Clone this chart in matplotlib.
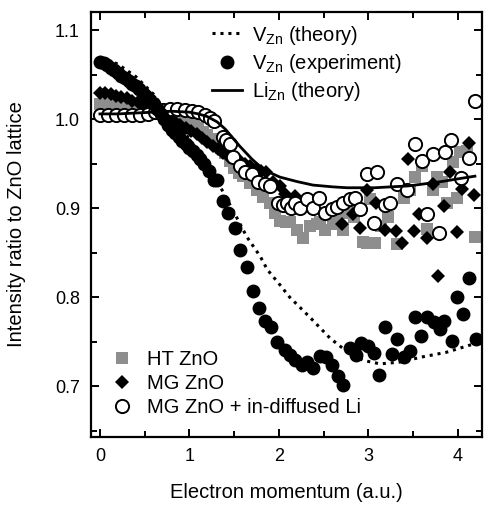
import matplotlib
matplotlib.use("Agg")
import matplotlib.pyplot as plt
from matplotlib.ticker import MultipleLocator
from matplotlib.lines import Line2D

plt.rcParams['font.family'] = ['Liberation Sans', 'DejaVu Sans']
plt.rcParams['mathtext.fontset'] = 'custom'
plt.rcParams['mathtext.rm'] = 'Liberation Sans'

# V_Zn theory (dotted)
vzn_th_x = [0.0, 0.2, 0.4, 0.6, 0.8, 1.0, 1.2, 1.34, 1.5, 1.64, 1.79, 1.87, 2.01, 2.12,
            2.35, 2.57, 2.72, 2.94, 3.13, 3.35, 3.61, 3.87, 4.13, 4.2]
vzn_th_y = [1.070, 1.062, 1.048, 1.028, 1.000, 0.978, 0.950, 0.925, 0.895, 0.868, 0.846, 0.831,
            0.814, 0.800, 0.777, 0.754, 0.742, 0.729, 0.725, 0.727, 0.733, 0.738, 0.746, 0.748]

# Li_Zn theory (solid)
li_th_x = [0.0, 0.2, 0.4, 0.6, 0.8, 1.0, 1.1, 1.2, 1.31, 1.4, 1.56, 1.7, 1.79, 1.9, 2.01, 2.2,
           2.38, 2.6, 2.76, 2.91, 3.07, 3.25, 3.44, 3.6, 3.82, 4.0, 4.19]
li_th_y = [1.006, 1.006, 1.007, 1.008, 1.009, 1.008, 1.006, 1.003, 0.997, 0.989, 0.970, 0.955,
           0.947, 0.940, 0.935, 0.930, 0.926, 0.924, 0.923, 0.923, 0.923, 0.924, 0.925, 0.927,
           0.930, 0.933, 0.936]

# V_Zn experiment (black circles)
vzn_ex_x = [0.00, 0.04, 0.08, 0.12, 0.16, 0.20, 0.24, 0.28, 0.32, 0.36, 0.40, 0.44, 0.48, 0.52,
            0.56, 0.60, 0.64, 0.68, 0.72, 0.76, 0.80, 0.84, 0.88, 0.92, 0.96, 1.00, 1.04, 1.08,
            1.12, 1.16, 1.22, 1.27, 1.31, 1.37, 1.43, 1.51, 1.56, 1.64, 1.71, 1.78, 1.84, 1.91,
            1.98, 2.07, 2.12, 2.18, 2.26, 2.31, 2.38, 2.46, 2.53, 2.59, 2.66, 2.72, 2.79, 2.86,
            2.92, 2.99, 3.06, 3.12, 3.19, 3.26, 3.32, 3.40, 3.46, 3.52, 3.59, 3.66, 3.73, 3.80,
            3.85, 3.93, 3.99, 4.06, 4.12, 4.20]
vzn_ex_y = [1.064, 1.063, 1.061, 1.058, 1.055, 1.052, 1.049, 1.046, 1.043, 1.040, 1.037, 1.034,
            1.030, 1.026, 1.022, 1.017, 1.012, 1.006, 1.000, 0.994, 0.988, 0.984, 0.980, 0.976,
            0.972, 0.968, 0.964, 0.960, 0.955, 0.950, 0.942, 0.932, 0.932, 0.908, 0.895, 0.878,
            0.853, 0.834, 0.807, 0.788, 0.773, 0.767, 0.750, 0.741, 0.735, 0.729, 0.724, 0.727,
            0.720, 0.734, 0.733, 0.724, 0.711, 0.701, 0.743, 0.735, 0.749, 0.745, 0.737, 0.712,
            0.766, 0.736, 0.753, 0.733, 0.740, 0.778, 0.756, 0.778, 0.772, 0.764, 0.773, 0.751,
            0.800, 0.781, 0.821, 0.753]

# HT ZnO (grey squares)
ht_x = [0.00, 0.05, 0.10, 0.15, 0.20, 0.25, 0.30, 0.35, 0.40, 0.45, 0.50, 0.55, 0.60, 0.65,
        0.70, 0.75, 0.80, 0.85, 0.90, 0.95, 1.00, 1.05, 1.10, 1.15, 1.20, 1.25, 1.30, 1.35,
        1.40, 1.45, 1.50, 1.55, 1.60, 1.68, 1.75, 1.82, 1.90, 1.96, 2.01, 2.08, 2.12, 2.20,
        2.27, 2.35, 2.42, 2.46, 2.52, 2.60, 2.66, 2.72, 2.76, 2.84, 2.94, 2.98, 3.02, 3.07,
        3.14, 3.22, 3.32, 3.40, 3.47, 3.52, 3.60, 3.66, 3.72, 3.77, 3.82, 3.88, 3.94, 3.99,
        4.02, 4.10, 4.19]
ht_y = [1.017, 1.017, 1.016, 1.016, 1.015, 1.014, 1.014, 1.013, 1.012, 1.011, 1.010, 1.009,
        1.008, 1.007, 1.006, 1.004, 1.003, 1.001, 0.999, 0.998, 0.996, 0.993, 0.990, 0.986,
        0.982, 0.978, 0.974, 0.968, 0.962, 0.953, 0.945, 0.940, 0.936, 0.928, 0.921, 0.913,
        0.906, 0.895, 0.886, 0.885, 0.884, 0.875, 0.867, 0.880, 0.882, 0.884, 0.876, 0.882,
        0.890, 0.876, 0.895, 0.890, 0.862, 0.861, 0.910, 0.861, 0.880, 0.890, 0.860, 0.911,
        0.920, 0.935, 0.947, 0.877, 0.921, 0.935, 0.929, 0.906, 0.952, 0.912, 0.963, 0.964,
        0.868]

# MG ZnO (diamonds)
mg_x = [0.00, 0.06, 0.12, 0.18, 0.24, 0.30, 0.36, 0.42, 0.48, 0.54, 0.60, 0.66, 0.72, 0.78,
        0.84, 0.90, 0.96, 1.02, 1.08, 1.14, 1.20, 1.26, 1.32, 1.38, 1.44, 1.50, 1.56, 1.62,
        1.68, 1.74, 1.80, 1.86, 1.93, 2.01, 2.07, 2.18, 2.70, 2.83, 2.91, 2.98, 3.09, 3.18,
        3.31, 3.37, 3.44, 3.51, 3.57, 3.65, 3.72, 3.78, 3.85, 3.91, 3.99, 4.05, 4.12, 4.18]
mg_y = [1.029, 1.029, 1.028, 1.026, 1.025, 1.024, 1.021, 1.019, 1.016, 1.014, 1.012, 1.008,
        1.005, 1.001, 0.997, 0.994, 0.990, 0.987, 0.983, 0.979, 0.974, 0.970, 0.966, 0.962,
        0.958, 0.956, 0.953, 0.950, 0.947, 0.944, 0.942, 0.941, 0.930, 0.925, 0.916, 0.914,
        0.882, 0.893, 0.878, 0.921, 0.906, 0.876, 0.874, 0.861, 0.955, 0.874, 0.894, 0.867,
        0.927, 0.824, 0.902, 0.941, 0.873, 0.922, 0.973, 0.915]

# MG ZnO + in-diffused Li (open circles)
li_x = [0.00, 0.09, 0.18, 0.27, 0.36, 0.45, 0.54, 0.62, 0.70, 0.78, 0.86, 0.95, 1.03, 1.10,
        1.17, 1.23, 1.28, 1.37, 1.41, 1.45, 1.49, 1.56, 1.62, 1.70, 1.77, 1.84, 1.90, 1.99,
        2.05, 2.09, 2.14, 2.18, 2.23, 2.31, 2.38, 2.45, 2.51, 2.59, 2.65, 2.72, 2.79, 2.85,
        2.91, 2.98, 3.06, 3.10, 3.18, 3.24, 3.32, 3.43, 3.52, 3.60, 3.65, 3.72, 3.79, 3.86,
        3.92, 4.04, 4.12, 4.19]
li_y = [1.005, 1.005, 1.005, 1.005, 1.005, 1.005, 1.006, 1.008, 1.010, 1.011, 1.011, 1.010,
        1.009, 1.008, 1.005, 1.001, 0.998, 0.980, 0.977, 0.972, 0.958, 0.947, 0.941, 0.939,
        0.930, 0.927, 0.925, 0.906, 0.904, 0.906, 0.900, 0.906, 0.900, 0.910, 0.900, 0.912,
        0.895, 0.899, 0.901, 0.906, 0.910, 0.912, 0.899, 0.938, 0.883, 0.941, 0.904, 0.906,
        0.927, 0.921, 0.972, 0.953, 0.894, 0.961, 0.872, 0.963, 0.977, 0.934, 0.956, 1.020]

fig = plt.figure(figsize=(4.84, 5.05), dpi=100)
ax = fig.add_axes([0.188, 0.135, 0.808, 0.842])

gris = '#8e8e8e'
ax.plot(ht_x, ht_y, 's', color=gris, markersize=9, markeredgewidth=0, zorder=2)
ax.plot(mg_x, mg_y, 'D', color='black', markersize=7, markeredgewidth=0, zorder=3)
ax.plot(li_x, li_y, 'o', markerfacecolor='white', markeredgecolor='black',
        markersize=9.5, markeredgewidth=1.4, zorder=4)
ax.plot(vzn_ex_x, vzn_ex_y, 'o', color='black', markersize=9, zorder=4)
ax.plot(vzn_th_x, vzn_th_y, color='black', linestyle=(0, (1, 1.6)), linewidth=2.2, zorder=5)
ax.plot(li_th_x, li_th_y, color='black', linestyle='-', linewidth=2, zorder=5)

ax.set_xlim(-0.1, 4.27)
ax.set_ylim(0.643, 1.121)
ax.xaxis.set_major_locator(MultipleLocator(1))
ax.xaxis.set_minor_locator(MultipleLocator(0.5))
ax.yaxis.set_major_locator(MultipleLocator(0.1))
ax.yaxis.set_minor_locator(MultipleLocator(0.05))
ax.tick_params(which='both', direction='in', top=True, right=True, width=1.4, labelsize=13)
ax.tick_params(which='major', length=6, pad=8)
ax.tick_params(which='minor', length=4)
for s in ax.spines.values():
    s.set_linewidth(1.6)

ax.set_xlabel('Electron momentum (a.u.)', fontsize=14.5, labelpad=13)
ax.set_ylabel('Intensity ratio to ZnO lattice', fontsize=14.5, labelpad=21)

# leyenda de las teorias y el experimento V_Zn
h1 = [Line2D([], [], color='black', linestyle=(0, (1, 1.6)), linewidth=2.2),
      Line2D([], [], color='black', marker='o', linestyle='', markersize=9),
      Line2D([], [], color='black', linewidth=2)]
leg1 = ax.legend(h1, ['V$_{\\mathrm{Zn}}$ (theory)', 'V$_{\\mathrm{Zn}}$ (experiment)',
                      'Li$_{\\mathrm{Zn}}$ (theory)'],
                 loc='upper left', bbox_to_anchor=(0.309, 0.972), frameon=False, fontsize=14.5,
                 handlelength=1.5, handletextpad=0.5, labelspacing=0.27, borderaxespad=0,
                 borderpad=0)
ax.add_artist(leg1)

# leyenda de las muestras
h2 = [Line2D([], [], color=gris, marker='s', linestyle='', markersize=9, markeredgewidth=0),
      Line2D([], [], color='black', marker='D', linestyle='', markersize=7, markeredgewidth=0),
      Line2D([], [], markerfacecolor='white', markeredgecolor='black', marker='o',
             linestyle='', markersize=9.5, markeredgewidth=1.4)]
ax.legend(h2, ['HT ZnO', 'MG ZnO', 'MG ZnO + in-diffused Li'], loc='lower left',
          bbox_to_anchor=(0.054, 0.046), frameon=False, fontsize=14.5, handlelength=1.0,
          handletextpad=0.75, labelspacing=0.26, borderaxespad=0, borderpad=0)

fig.savefig('out.png', dpi=100)
